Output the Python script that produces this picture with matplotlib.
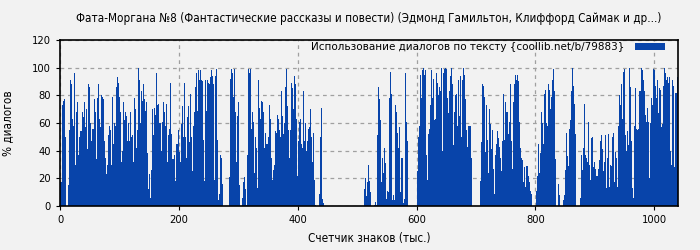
import numpy as np
import matplotlib
matplotlib.use("Agg")
import matplotlib.pyplot as plt
from matplotlib import font_manager

title = "Фата-Моргана №8 (Фантастические рассказы и повести) (Эдмонд Гамильтон, Клиффорд Саймак и др...)"
legend_label = "Использование диалогов по тексту {coollib.net/b/79883}"
x_label = "Счетчик знаков (тыс.)"
y_label = "% диалогов"
x_max = 1040
x_ticks = [0, 200, 400, 600, 800, 1000]
y_ticks = [0, 20, 40, 60, 80, 100, 120]

seg1 = [17, 17, 73, 76, 77, 50, 0, 0, 15, 55, 91, 88, 63, 58, 96, 30, 68, 75, 37, 50,
        54, 54, 68, 64, 75, 57, 70, 41, 88, 86, 60, 47, 56, 56, 77, 68, 34, 78, 88, 63,
        57, 80, 79, 77, 47, 35, 23, 30, 51, 58, 55, 30, 79, 45, 60, 58, 86, 93, 89, 79,
        68, 32, 40, 75, 62, 68, 65, 47, 60, 47, 68, 50, 51, 32, 78, 70, 42, 55, 100, 91,
        60, 83, 76, 88, 77, 69, 75, 38, 12, 23, 6, 26, 70, 51, 71, 66, 96, 73, 74, 60,
        60, 40, 61, 75, 68, 58, 74, 32, 51, 56, 89, 52, 34, 34, 37, 18, 45, 45, 55, 39,
        32, 59, 72, 50, 89, 50, 35, 64, 72, 46, 81, 50, 25, 58, 68, 86, 96, 69, 98, 91,
        98, 91, 90, 48, 18, 91, 69, 91, 89, 88, 93, 98, 94, 88, 19, 94]

seg2 = [99, 48, 4, 9, 37, 35, 16, 0, 0, 0, 0, 0, 0, 21, 92, 99, 96, 79, 99, 68,
        32, 65, 75, 15, 0, 0, 6, 17, 21, 12, 1, 37, 99, 96, 99, 56, 68, 61, 24, 50,
        42, 13, 91, 71, 63, 76, 75, 68, 42, 53, 45, 45, 50, 73, 63, 35, 19, 26, 30, 54,
        53, 66, 63, 55, 50, 83, 65, 52, 60, 86, 99, 72, 55, 35, 55, 89, 85, 70, 94, 88,
        63, 22, 47, 61, 63, 45, 42, 83, 47, 60, 40, 47, 56, 57, 70, 50, 32, 53, 19, 1,
        0, 0, 0, 9, 50, 71, 5, 2,
        0, 0, 0, 0, 0, 0, 0, 0, 0, 0, 0, 0, 0, 0, 0, 0, 0, 0, 0, 0,
        0, 0, 0, 0, 0, 0, 0, 0, 0, 0, 0, 0, 0, 0, 0, 0, 0, 0, 0, 0,
        12, 20, 7, 17, 30, 18, 10, 0]

seg3 = [0, 0, 1, 3, 1, 51, 86, 77, 62, 17, 35, 24, 42, 31, 5, 11, 10, 78, 97, 81,
        4, 8, 4, 73, 68, 53, 42, 57, 10, 35, 35, 2, 5, 96, 61, 47,
        0, 0, 0, 0, 0, 0, 0, 0, 0,
        25, 50, 58, 95, 78, 98, 100, 95, 98, 37, 19, 52, 56, 73, 98, 78, 92, 62, 63, 96,
        89, 80, 86, 83, 100, 40, 96, 99, 100, 99, 78, 67, 83, 94, 100, 88, 44, 68, 80, 81,
        58, 91, 65, 94, 50, 91, 100, 95, 77, 55, 43, 58, 58, 58, 35,
        0, 0, 0, 0, 0, 0, 0, 0,
        18, 46, 88, 87, 79, 39, 73, 48, 24, 70, 59, 41, 55, 27, 9, 37, 45, 54, 49, 43,
        35, 25, 47, 81, 48, 75, 68, 68, 52, 61, 88, 47, 27, 75, 88, 95, 91, 95, 90, 61,
        42, 35, 33, 17, 28, 14, 29, 29]

seg4 = [22, 17, 11, 9, 0, 0, 0, 0, 11, 22, 45, 24, 38, 68, 60, 45, 81, 84, 60, 58,
        88, 84, 70, 79, 91, 99, 83, 34, 0, 0, 16, 8, 0, 0, 0, 4, 8, 26, 53, 36,
        29, 56, 62, 83, 100, 87, 74, 52, 0, 0, 0, 0, 6, 37, 26, 42, 74, 37, 35, 32,
        61, 30, 19, 49, 50, 28, 32, 27, 22, 22, 27, 33, 47, 51, 41, 25, 32, 51, 13, 35,
        52, 14, 30, 29, 50, 53, 17, 39, 35, 14, 58, 80, 73, 88, 63, 97, 99, 51, 40, 54,
        44, 100, 86, 47, 13, 6, 58, 85, 56, 55, 56, 83, 83, 100, 98, 91, 83, 66, 61, 71,
        61, 20, 60, 78, 73, 99, 98, 87, 78, 91, 67, 85, 84, 57, 59, 87, 100, 96, 91, 93,
        89, 93, 40, 30, 91, 87, 28, 82, 82, 93]

values = np.array(seg1 + seg2 + seg3 + seg4, dtype=float)
n = len(values)
step = x_max / n
xs = np.arange(n) * step

cond = None
for f in font_manager.fontManager.ttflist:
    if f.name == "DejaVu Sans" and "ondensed" in f.fname and "Bold" not in f.fname and "Oblique" not in f.fname:
        cond = f.fname
        break
if cond:
    fp = font_manager.FontProperties(fname=cond, size=8.4)
    fp_tick = font_manager.FontProperties(fname=cond, size=8)
else:
    fp = font_manager.FontProperties(family="DejaVu Sans", size=7.6)
    fp_tick = font_manager.FontProperties(family="DejaVu Sans", size=7.3)
fp_leg = font_manager.FontProperties(family="DejaVu Sans", size=7.5)

bg = "#f2f2f2"
bar_color = "#0844aa"

fig = plt.figure(figsize=(7, 2.5), dpi=100, facecolor=bg)
ax = fig.add_axes([60 / 700, 44 / 250, 618 / 700, 166 / 250])
ax.set_facecolor(bg)
ax.bar(xs, values, width=step, align="edge", color=bar_color, linewidth=0, label=legend_label)
ax.set_xlim(0, x_max)
ax.set_ylim(0, 120)
ax.set_xticks(x_ticks)
ax.set_yticks(y_ticks)
ax.tick_params(length=3, color="black")
for lab in ax.get_xticklabels() + ax.get_yticklabels():
    lab.set_fontproperties(fp_tick)
ax.set_axisbelow(True)
ax.grid(True, color="#a0a0a0", linestyle=(0, (3, 3)), linewidth=0.9)
for s in ax.spines.values():
    s.set_color("black")
    s.set_linewidth(1.2)
ax.set_title(title, fontproperties=fp, pad=13)
ax.set_xlabel(x_label, fontproperties=fp, labelpad=5)
ax.set_ylabel(y_label, fontproperties=fp, labelpad=13)
leg = ax.legend(loc="upper right", prop=fp_leg, frameon=False, handlelength=2.9,
                handleheight=0.7, borderaxespad=0, borderpad=0, handletextpad=1.0,
                markerfirst=False, bbox_to_anchor=(1 - 13 / 618, 1 - 2 / 166))
fig.savefig("out.png", dpi=100, facecolor=bg)
